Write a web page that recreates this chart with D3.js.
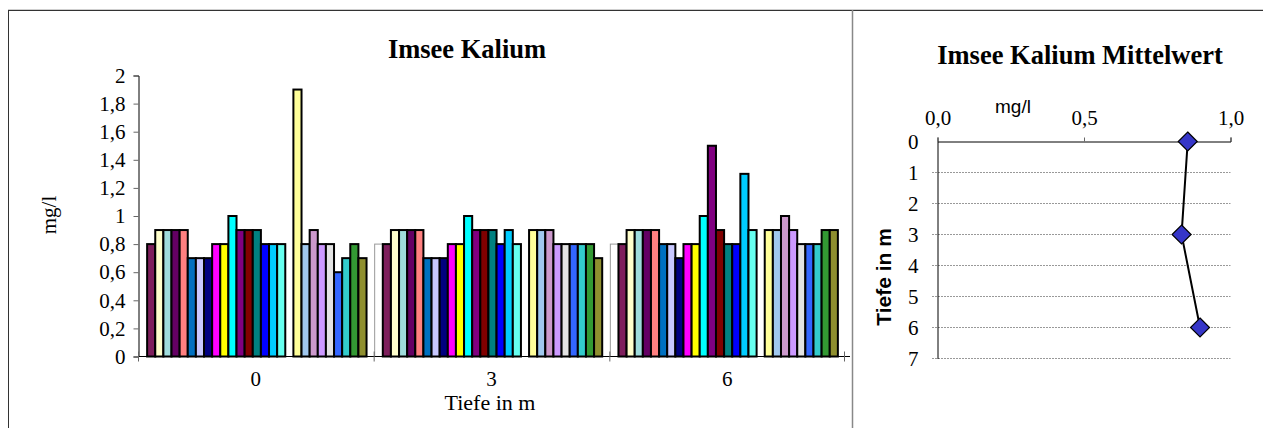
<!DOCTYPE html>
<html>
<head>
<meta charset="utf-8">
<script src="https://cdn.jsdelivr.net/npm/d3@7"></script>
<style>
  body { margin: 0; background: #fff; }
  svg { display: block; }
</style>
</head>
<body>
<div id="container"></div>
<script>
let width = 1263;
let height = 428;

// depths (categories)
let depths = ["0", "3", "6"];

// one fill per series slot, "none" = empty slot
let seriesColors = [
  "#ffffff", "#7e1f5c", "#ffffcc", "#9fdcdc", "#640064", "#ff8080", "#0070c0", "#c8c8ff",
  "#000080", "#ff00ff", "#ffff00", "#00ffff", "#800080", "#800000", "#008080", "#0000ff",
  "#00ccff", "#66fff0", "none", "#ffff99", "#a0c8ee", "#cc99cc", "#cc99ff", "#e3e3e3",
  "#3366ff", "#33cccc", "#339933", "#8f8f2f", "none"
];

// values per depth, same order as seriesColors (null = no bar)
let valuesDepth0 = [null, 0.8, 0.9, 0.9, 0.9, 0.9, 0.7, 0.7, 0.7, 0.8, 0.8, 1.0, 0.9, 0.9, 0.9, 0.8, 0.8, 0.8, null,
  1.9, 0.8, 0.9, 0.8, 0.8, 0.6, 0.7, 0.8, 0.7, null];
let valuesDepth3 = [0.8, 0.8, 0.9, 0.9, 0.9, 0.9, 0.7, 0.7, 0.7, 0.8, 0.8, 1.0, 0.9, 0.9, 0.9, 0.8, 0.9, 0.8, null,
  0.9, 0.9, 0.9, 0.8, 0.8, 0.8, 0.8, 0.8, 0.7, null];
let valuesDepth6 = [0.8, 0.8, 0.9, 0.9, 0.9, 0.9, 0.8, 0.8, 0.7, 0.8, 0.8, 1.0, 1.5, 0.9, 0.8, 0.8, 1.3, 0.9, null,
  0.9, 0.9, 1.0, 0.9, 0.8, 0.8, 0.8, 0.9, 0.9, null];

let yTicks = [0, 0.2, 0.4, 0.6, 0.8, 1, 1.2, 1.4, 1.6, 1.8, 2];

// right chart: mean per depth
let meanDepths = [0, 3, 6];
let meanValues = [0.854, 0.833, 0.896];
let meanXTicks = [0, 0.5, 1];
let meanYTicks = [0, 1, 2, 3, 4, 5, 6, 7];

let comma = d => String(d).replace(".", ",");
let comma1 = d => d.toFixed(1).replace(".", ",");

let serif = "Liberation Serif";
let sans = "Liberation Sans";

let svg = d3.select("#container")
  .append("svg")
  .attr("width", width)
  .attr("height", height);

// frames
svg.append("line").attr("x1", 8).attr("x2", width).attr("y1", 9.5).attr("y2", 9.5)
  .attr("stroke", "#cfcfcf").attr("stroke-width", 1);
svg.append("line").attr("x1", 8).attr("x2", width).attr("y1", 10.5).attr("y2", 10.5)
  .attr("stroke", "#333").attr("stroke-width", 1);
svg.append("line").attr("x1", 8.5).attr("x2", 8.5).attr("y1", 10).attr("y2", height)
  .attr("stroke", "#333").attr("stroke-width", 1);
svg.append("line").attr("x1", 852.5).attr("x2", 852.5).attr("y1", 10).attr("y2", height)
  .attr("stroke", "#888").attr("stroke-width", 1.5);

// ---------- left chart: bars ----------
let x0 = d3.scaleBand().domain(depths).range([138, 845]).padding(0);
let x1 = d3.scaleBand().domain(d3.range(seriesColors.length)).range([0, x0.bandwidth()]).padding(0);
let y = d3.scaleLinear().domain([0, 2]).range([356.5, 75.5]);

let allValues = [valuesDepth0, valuesDepth3, valuesDepth6];

let groups = svg.append("g").selectAll("g")
  .data(depths)
  .enter().append("g")
  .attr("transform", d => `translate(${x0(d) + 1},0)`);

groups.selectAll("rect")
  .data((d, i) => allValues[i].map((v, j) => ({ v: v, j: j })).filter(e => e.v !== null))
  .enter().append("rect")
  .attr("x", d => x1(d.j))
  .attr("y", d => y(d.v))
  .attr("width", x1.bandwidth())
  .attr("height", d => y(0) - y(d.v))
  .attr("fill", d => seriesColors[d.j])
  .attr("stroke", d => d.j === 0 ? "#999" : "#000")
  .attr("stroke-width", d => d.j === 0 ? 1 : 2);

// y axis
let yAxis = svg.append("g")
  .attr("transform", "translate(138.5,0)")
  .call(d3.axisLeft(y).tickValues(yTicks).tickFormat(comma).tickSize(5).tickPadding(8));
yAxis.attr("font-family", serif).attr("font-size", 21);
yAxis.select(".domain").attr("stroke", "#000");
yAxis.selectAll(".tick line").attr("stroke", "#666");
yAxis.selectAll(".tick text").attr("fill", "#000");

// x axis
let xAxisG = svg.append("g").attr("transform", "translate(0,356.5)");
xAxisG.append("line").attr("x1", 138).attr("x2", 850).attr("y1", 0).attr("y2", 0).attr("stroke", "#000");
xAxisG.selectAll(".tk")
  .data(depths.concat(["end"]))
  .enter().append("line")
  .attr("x1", (d, i) => i < depths.length ? x0(d) + 0.5 : x0.range()[1] - 0.5)
  .attr("x2", (d, i) => i < depths.length ? x0(d) + 0.5 : x0.range()[1] - 0.5)
  .attr("y1", -5).attr("y2", 5)
  .attr("stroke", "#666");
xAxisG.selectAll(".lbl")
  .data(depths)
  .enter().append("text")
  .attr("x", d => x0(d) + x0.bandwidth() / 2)
  .attr("y", 29)
  .attr("text-anchor", "middle")
  .attr("font-family", serif).attr("font-size", 21)
  .text(d => d);

svg.append("text").attr("x", 490).attr("y", 410).attr("text-anchor", "middle")
  .attr("font-family", serif).attr("font-size", 22).text("Tiefe in m");
svg.append("text").attr("transform", "translate(56,215) rotate(-90)").attr("text-anchor", "middle")
  .attr("font-family", serif).attr("font-size", 21).text("mg/l");
svg.append("text").attr("x", 467).attr("y", 58).attr("text-anchor", "middle")
  .attr("font-family", serif).attr("font-size", 26.5).attr("font-weight", "bold").text("Imsee Kalium");

// ---------- right chart: mean profile ----------
let mx = d3.scaleLinear().domain([0, 1]).range([937.5, 1230.5]);
let my = d3.scaleLinear().domain([0, 7]).range([141.5, 358.5]);

svg.append("g").selectAll("line")
  .data(meanYTicks.slice(1))
  .enter().append("line")
  .attr("x1", 932).attr("x2", mx(1))
  .attr("y1", d => my(d)).attr("y2", d => my(d))
  .attr("stroke", "#999").attr("stroke-dasharray", "2,1");

let mxAxis = svg.append("g")
  .attr("transform", `translate(0,${my(0)})`)
  .call(d3.axisTop(mx).tickValues(meanXTicks).tickFormat(comma1).tickSize(4).tickPadding(13));
mxAxis.attr("font-family", serif).attr("font-size", 21);
mxAxis.select(".domain").attr("stroke", "#000");
mxAxis.selectAll(".tick line").attr("stroke", "#666");
mxAxis.selectAll(".tick text").attr("fill", "#000");

let myAxis = svg.append("g")
  .attr("transform", `translate(${mx(0)},0)`)
  .call(d3.axisLeft(my).tickValues(meanYTicks).tickFormat(d => d).tickSize(0).tickPadding(19));
myAxis.attr("font-family", serif).attr("font-size", 21);
myAxis.select(".domain").attr("stroke", "#000");
myAxis.selectAll(".tick text").attr("fill", "#000");

let line = d3.line().x(d => mx(d[1])).y(d => my(d[0]));
let pts = meanDepths.map((d, i) => [d, meanValues[i]]);
svg.append("path").datum(pts).attr("d", line)
  .attr("fill", "none").attr("stroke", "#000").attr("stroke-width", 2);

svg.append("g").selectAll("path")
  .data(pts)
  .enter().append("path")
  .attr("d", d3.symbol().type(d3.symbolDiamond2).size(230))
  .attr("transform", d => `translate(${mx(d[1])},${my(d[0])})`)
  .attr("fill", "#3636c8").attr("stroke", "#000").attr("stroke-width", 1.2);

svg.append("text").attr("x", 1080).attr("y", 64).attr("text-anchor", "middle")
  .attr("font-family", serif).attr("font-size", 26.5).attr("font-weight", "bold").text("Imsee Kalium Mittelwert");
svg.append("text").attr("x", 1013).attr("y", 113).attr("text-anchor", "middle")
  .attr("font-family", sans).attr("font-size", 19).text("mg/l");
svg.append("text").attr("transform", "translate(891,277) rotate(-90)").attr("text-anchor", "middle")
  .attr("font-family", sans).attr("font-size", 21).attr("font-weight", "bold").text("Tiefe in m");
</script>
</body>
</html>
